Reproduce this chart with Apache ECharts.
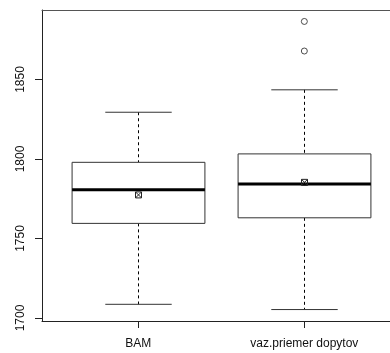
<!DOCTYPE html>
<html>
<head>
<meta charset="utf-8">
<script src="https://cdn.jsdelivr.net/npm/echarts@6/dist/echarts.min.js"></script>
<style>
html,body{margin:0;padding:0;background:#fff;}
#chart{width:390px;height:353px;}
</style>
</head>
<body>
<div id="chart"></div>
<script>
const categories = ['BAM', 'vaz.priemer dopytov'];
const lowerWhisker = [1708.6, 1705.3];
const q1 = [1759.5, 1763.0];
const medians = [1780.6, 1784.2];
const q3 = [1797.9, 1803.2];
const upperWhisker = [1829.4, 1843.5];
const means = [1777.4, 1785.3];
const outlierCategory = [2, 2];
const outlierValues = [1867.9, 1886.5];
const yTicks = [1700, 1750, 1800, 1850];

const boxData = categories.map((c, i) => [i + 1, lowerWhisker[i], q1[i], medians[i], q3[i], upperWhisker[i], means[i]]);
const outlierData = outlierValues.map((v, i) => [outlierCategory[i], v]);

const chart = echarts.init(document.getElementById('chart'));
const font = 'Liberation Sans, Arial, Helvetica, sans-serif';

function renderBox(params, api) {
  const x = api.value(0);
  const pLow = api.coord([x, api.value(1)]);
  const pQ1 = api.coord([x, api.value(2)]);
  const pMed = api.coord([x, api.value(3)]);
  const pQ3 = api.coord([x, api.value(4)]);
  const pHigh = api.coord([x, api.value(5)]);
  const pMean = api.coord([x, api.value(6)]);
  const bw = api.size([0.8, 0])[0];
  const cw = bw / 2;
  const cx = Math.round(pMed[0]) + 0.5;
  const dashStyle = { stroke: '#000', lineWidth: 1, lineDash: [3, 3] };
  const m = 3;
  return {
    type: 'group',
    children: [
      { type: 'line', shape: { x1: cx, y1: pHigh[1], x2: cx, y2: pQ3[1] }, style: dashStyle },
      { type: 'line', shape: { x1: cx, y1: pQ1[1], x2: cx, y2: pLow[1] }, style: dashStyle },
      { type: 'line', shape: { x1: cx - cw / 2, y1: pHigh[1], x2: cx + cw / 2, y2: pHigh[1] }, style: { stroke: '#333', lineWidth: 1 } },
      { type: 'line', shape: { x1: cx - cw / 2, y1: pLow[1], x2: cx + cw / 2, y2: pLow[1] }, style: { stroke: '#333', lineWidth: 1 } },
      { type: 'rect', shape: { x: cx - bw / 2, y: pQ3[1], width: bw, height: pQ1[1] - pQ3[1] }, style: { stroke: '#333', lineWidth: 1, fill: '#fff' } },
      { type: 'line', shape: { x1: cx - bw / 2, y1: pMed[1], x2: cx + bw / 2, y2: pMed[1] }, style: { stroke: '#000', lineWidth: 3 } },
      { type: 'rect', shape: { x: cx - m, y: pMean[1] - m, width: 2 * m, height: 2 * m }, style: { stroke: '#222', lineWidth: 1, fill: null } },
      { type: 'line', shape: { x1: cx - m, y1: pMean[1] - m, x2: cx + m, y2: pMean[1] + m }, style: { stroke: '#222', lineWidth: 1 } },
      { type: 'line', shape: { x1: cx - m, y1: pMean[1] + m, x2: cx + m, y2: pMean[1] - m }, style: { stroke: '#222', lineWidth: 1 } }
    ]
  };
}

const option = {
  animation: false,
  backgroundColor: '#fff',
  grid: { left: 42, top: 10, right: 0, bottom: 32 },
  xAxis: [{
    type: 'value', min: 0.42, max: 2.516,
    splitLine: { show: false },
    axisLine: { show: true, onZero: false, lineStyle: { color: '#222', width: 1 } },
    axisTick: { show: true, length: 7, customValues: [1, 2], lineStyle: { color: '#222' } },
    axisLabel: { show: true, customValues: [1, 2], margin: 17, color: '#111', fontSize: 12, fontFamily: font,
      formatter: v => categories[Math.round(v) - 1] || '' }
  }, {
    type: 'value', min: 0.42, max: 2.516, position: 'top',
    splitLine: { show: false },
    axisLine: { show: true, onZero: false, lineStyle: { color: '#555', width: 1 } },
    axisTick: { show: false }, axisLabel: { show: false }
  }],
  yAxis: {
    type: 'value', min: 1698.1, max: 1893.7,
    splitLine: { show: false },
    axisLine: { show: true, onZero: false, lineStyle: { color: '#222', width: 1 } },
    axisTick: { show: true, length: 7, customValues: yTicks, lineStyle: { color: '#222' } },
    axisLabel: { show: true, customValues: yTicks, rotate: 90, margin: 15, color: '#111', fontSize: 12, fontFamily: font,
      formatter: v => String(Math.round(v)) }
  },
  series: [{
    type: 'custom',
    renderItem: renderBox,
    data: boxData,
    encode: { x: 0, y: [1, 2, 3, 4, 5, 6] },
    clip: false
  }, {
    type: 'scatter',
    data: outlierData,
    symbol: 'circle',
    symbolSize: 6,
    itemStyle: { color: '#fff', borderColor: '#222', borderWidth: 1 }
  }]
};
chart.setOption(option);
</script>
</body>
</html>
